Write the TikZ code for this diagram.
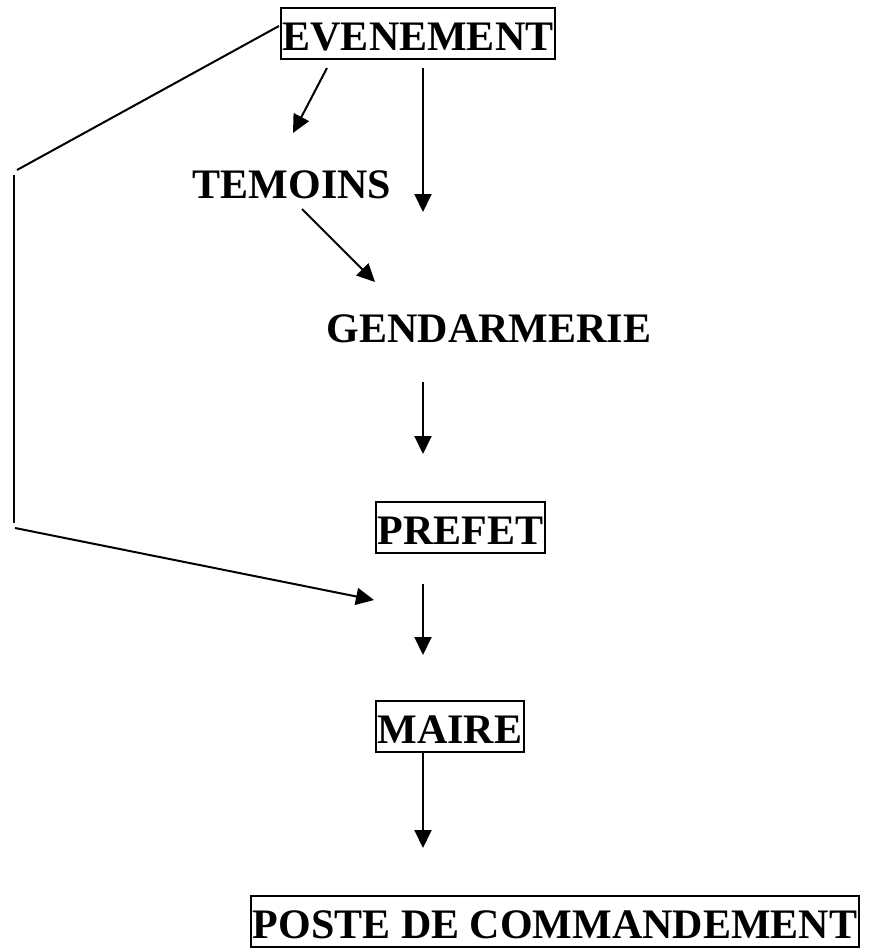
\documentclass[tikz,border=0pt]{standalone}
\usepackage{fontspec}
\setmainfont{Liberation Serif}
\usetikzlibrary{arrows.meta}
\begin{document}
\begin{tikzpicture}[x=1pt,y=-1pt,
  lbl/.style={font=\fontsize{42}{48}\selectfont\bfseries, inner xsep=2pt, inner ysep=1.5pt, text height=40.5pt, text depth=7.5pt, anchor=base},
  boxed/.style={lbl, draw, line width=2.2pt},
  conn/.style={line width=2pt},
  arr/.style={conn, -{Triangle[length=18pt,width=17pt]}}]
\useasboundingbox (0,0) rectangle (876,951);
\node[boxed] (ev) at (418,50) {EVENEMENT};
\node[lbl] (tem) at (292,198) {TEMOINS};
\node[lbl] (gen) at (489,342) {GENDARMERIE};
\node[boxed] (pre) at (460.5,544) {PREFET};
\node[boxed] (mai) at (450,743) {MAIRE};
\node[boxed] (pc) at (555,938) {POSTE DE COMMANDEMENT};
% connector end points
\coordinate (evTemS) at (327,68);   \coordinate (evTemE) at (293,133);
\coordinate (evGenS) at (423,68);   \coordinate (evGenE) at (423,212);
\coordinate (temGenS) at (302,209); \coordinate (temGenE) at (375,282);
\coordinate (genPreS) at (423,382); \coordinate (genPreE) at (423,454);
\coordinate (preMaiS) at (423,584); \coordinate (preMaiE) at (423,655);
\coordinate (maiPcS) at (423,752);  \coordinate (maiPcE) at (423,848);
\coordinate (l0) at (279,26);
\coordinate (l1) at (17,170);
\coordinate (l2) at (14,175);
\coordinate (l3) at (14,523);
\coordinate (l4) at (15,528);
\coordinate (l5) at (374,600);
% connectors
\draw[arr] (evTemS) -- (evTemE);
\draw[arr] (evGenS) -- (evGenE);
\draw[arr] (temGenS) -- (temGenE);
\draw[arr] (genPreS) -- (genPreE);
\draw[arr] (preMaiS) -- (preMaiE);
\draw[arr] (maiPcS) -- (maiPcE);
\draw[conn] (l0) -- (l1);
\draw[conn] (l2) -- (l3);
\draw[arr] (l4) -- (l5);
\end{tikzpicture}
\end{document}
